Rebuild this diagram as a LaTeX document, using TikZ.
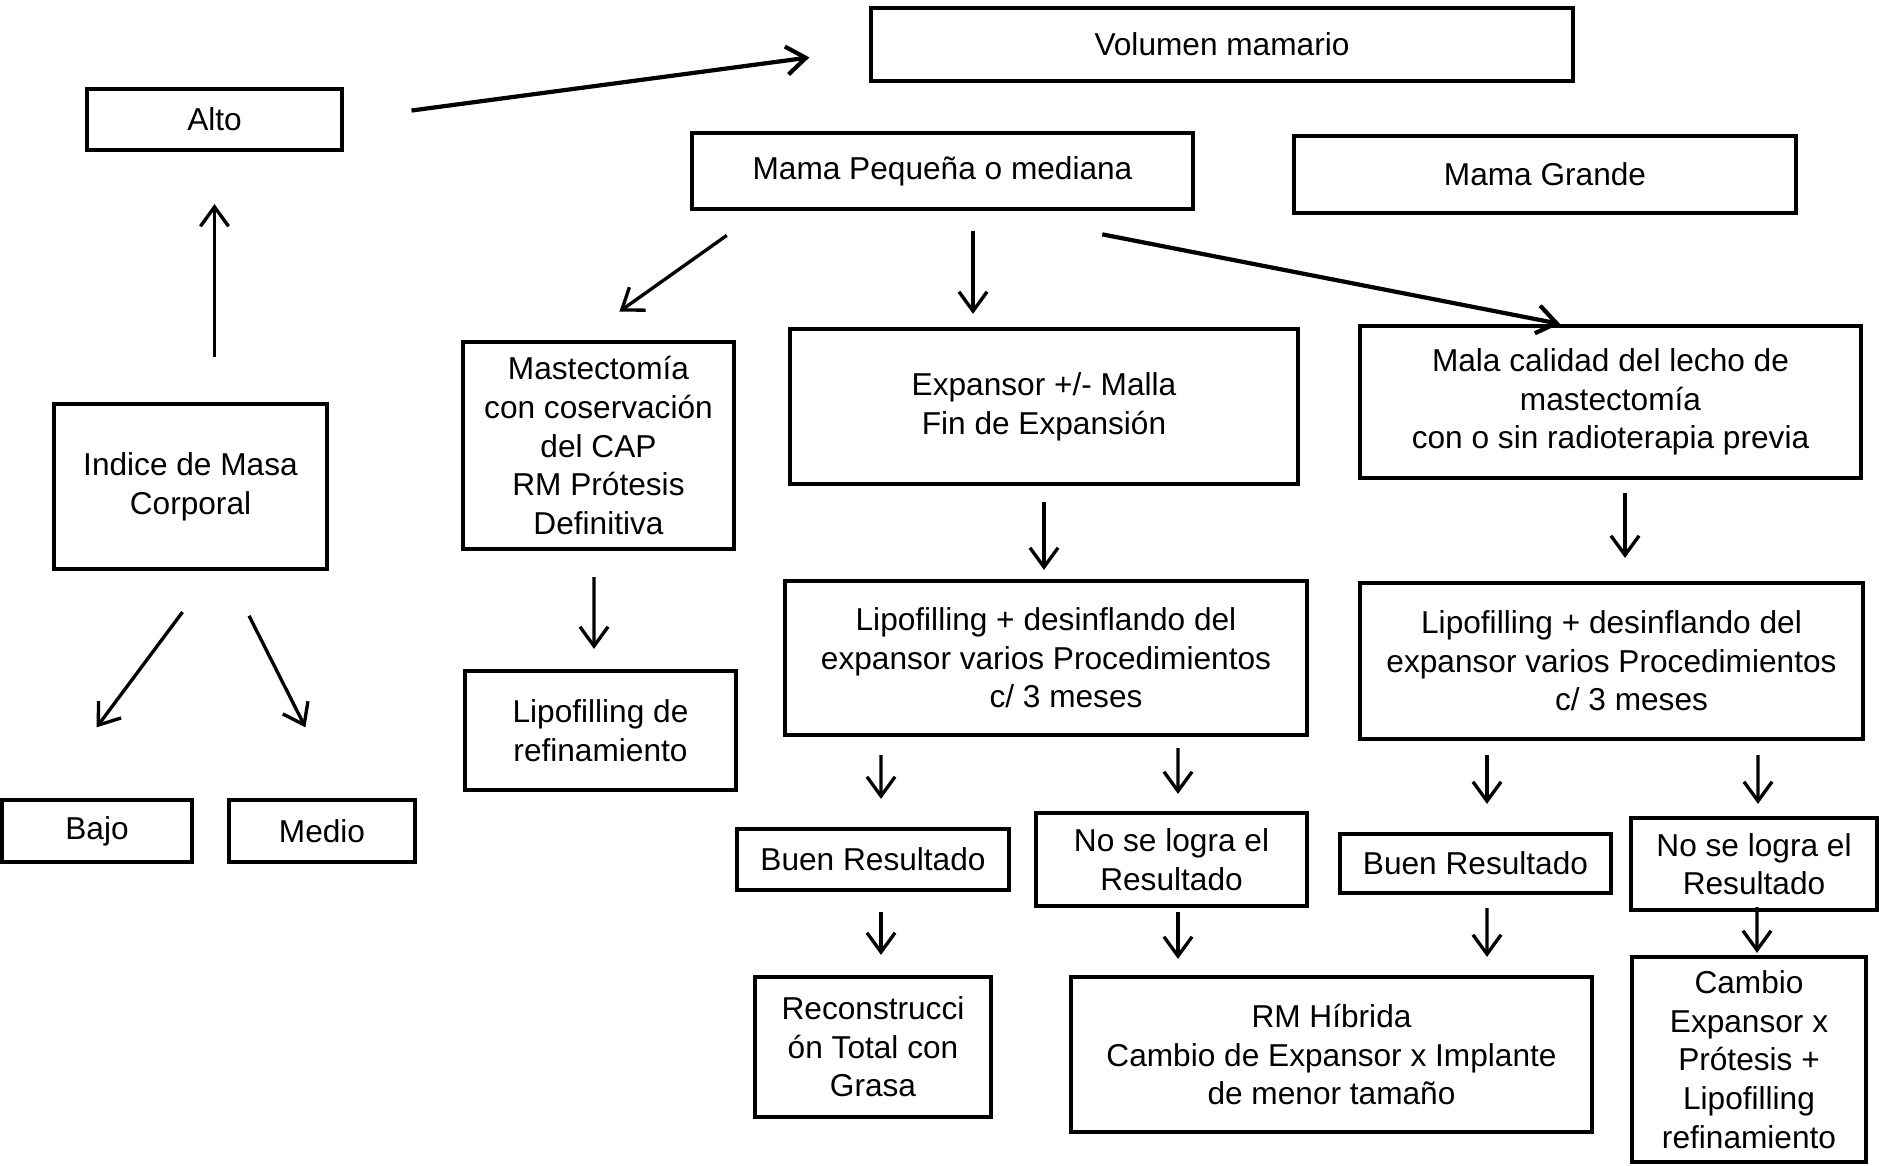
\documentclass[tikz,border=0pt]{standalone}
\usepackage{fontspec}
\setmainfont{Liberation Sans}
\usetikzlibrary{arrows.meta}

\tikzset{
  box/.style={draw, line width=1.2pt, inner sep=2pt, align=center,
    font=\fontsize{9pt}{11pt}\selectfont},
  arr/.style={-{Straight Barb[length=5.5pt,width=8pt]}, line width=0.95pt},
  arrthick/.style={arr, line width=1.2pt}
}

\begin{document}
\begin{tikzpicture}
    \useasboundingbox (0,0) rectangle (18.79,-11.65);

    % top row
    \node[box, minimum width=7.02cm, minimum height=0.73cm] (vol) at (12.22,-0.445) {Volumen mamario};
    \node[box, minimum width=2.55cm, minimum height=0.61cm] (alto) at (2.145,-1.195) {Alto};
    \node[box, minimum width=5.01cm, minimum height=0.76cm] (mamaP) at (9.425,-1.71) {Mama Pequeña o mediana};
    \node[box, minimum width=5.02cm, minimum height=0.77cm] (mamaG) at (15.45,-1.745) {Mama Grande};

    % second row
    \node[box, minimum width=2.73cm, minimum height=1.65cm] (imc) at (1.905,-4.865) {Indice de Masa\\Corporal};
    \node[box, minimum width=2.71cm, minimum height=2.07cm] (mast) at (5.985,-4.455) {Mastectomía\\con coservación\\del CAP\\RM Prótesis\\Definitiva};
    \node[box, minimum width=5.08cm, minimum height=1.55cm] (exp) at (10.44,-4.065) {Expansor +/- Malla\\Fin de Expansión};
    \node[box, minimum width=5.01cm, minimum height=1.52cm] (mala) at (16.105,-4.02) {Mala calidad del lecho de\\mastectomía\\con o sin radioterapia previa};

    % third row
    \node[box, minimum width=2.71cm, minimum height=1.19cm] (lipoR) at (6.005,-7.305) {Lipofilling de\\refinamiento};
    \node[box, minimum width=5.22cm, minimum height=1.54cm] (lipoA) at (10.46,-6.58) {Lipofilling + desinflando del\\expansor varios Procedimientos\\\hspace*{0.4cm}c/ 3 meses};
    \node[box, minimum width=5.03cm, minimum height=1.56cm] (lipoB) at (16.115,-6.61) {Lipofilling + desinflando del\\expansor varios Procedimientos\\\hspace*{0.4cm}c/ 3 meses};
    \node[box, minimum width=1.90cm, minimum height=0.62cm] (bajo) at (0.97,-8.31) {Bajo};
    \node[box, minimum width=1.86cm, minimum height=0.62cm] (medio) at (3.22,-8.31) {Medio};

    % results
    \node[box, minimum width=2.72cm, minimum height=0.61cm] (buenA) at (8.73,-8.595) {Buen Resultado};
    \node[box, minimum width=2.71cm, minimum height=0.93cm] (noseA) at (11.715,-8.595) {No se logra el\\Resultado};
    \node[box, minimum width=2.71cm, minimum height=0.59cm] (buenB) at (14.755,-8.635) {Buen Resultado};
    \node[box, minimum width=2.46cm, minimum height=0.92cm] (noseB) at (17.54,-8.64) {No se logra el\\Resultado};

    % bottom row
    \node[box, minimum width=2.36cm, minimum height=1.40cm] (recon) at (8.73,-10.47) {Reconstrucci\\ón Total con\\Grasa};
    \node[box, minimum width=5.21cm, minimum height=1.55cm] (rm) at (13.315,-10.545) {RM Híbrida\\Cambio de Expansor x Implante\\de menor tamaño};
    \node[box, minimum width=2.34cm, minimum height=2.05cm] (cambio) at (17.49,-10.595) {Cambio\\Expansor x\\Prótesis +\\Lipofilling\\refinamiento};

    % arrows
    \draw[arrthick, shorten <=0.68cm, shorten >=0.6cm] (alto.east) -- ([yshift=-0.05cm]vol.west);
    \draw[arr, shorten <=0.45cm, shorten >=0.52cm] (alto.south |- imc.north) -- (alto.south);
    \draw[arr, shorten <=0.51cm, shorten >=0.88cm] ([xshift=0.225cm]imc.south) -- ([xshift=-0.53cm]bajo.north);
    \draw[arr, shorten <=0.5cm, shorten >=0.79cm] ([xshift=0.36cm]imc.south) -- ([xshift=0.19cm]medio.north);
    \draw[arr, shorten <=0.42cm, shorten >=0.49cm] ([xshift=-1.815cm]mamaP.south) -- ([xshift=-0.19cm]mast.north);
    \draw[arr, shorten <=0.2cm, shorten >=0.13cm] ([xshift=0.305cm]mamaP.south) -- ([xshift=-0.71cm]exp.north);
    \draw[arrthick, shorten <=1.21cm] ([xshift=0.41cm]mamaP.south) -- ([xshift=-0.505cm]mala.north);
    \draw[arr, shorten <=0.26cm, shorten >=0.2cm] ([xshift=-0.045cm]mast.south) -- ([xshift=-0.065cm]lipoR.north);
    \draw[arr, shorten <=0.16cm, shorten >=0.09cm] (exp.south) -- (exp.south |- lipoA.north);
    \draw[arr, shorten <=0.13cm, shorten >=0.23cm] ([xshift=0.145cm]mala.south) -- ([xshift=0.135cm]lipoB.north);
    \draw[arr, shorten <=0.18cm, shorten >=0.28cm] ([xshift=-1.65cm]lipoA.south) -- ([xshift=0.08cm]buenA.north);
    \draw[arr, shorten <=0.11cm, shorten >=0.17cm] ([xshift=1.32cm]lipoA.south) -- ([xshift=0.065cm]noseA.north);
    \draw[arr, shorten <=0.2cm, shorten >=0.2cm] ([xshift=0.08cm]buenA.south) -- ([xshift=0.08cm]recon.north);
    \draw[arr, shorten <=0.14cm, shorten >=0.28cm] ([xshift=-1.245cm]lipoB.south) -- ([xshift=0.115cm]buenB.north);
    \draw[arr, shorten <=0.14cm, shorten >=0.12cm] ([xshift=1.465cm]lipoB.south) -- ([xshift=0.04cm]noseB.north);
    \draw[arr, shorten <=0.04cm, shorten >=0.16cm] ([xshift=0.065cm]noseA.south) -- ([xshift=-1.535cm]rm.north);
    \draw[arr, shorten <=0.13cm, shorten >=0.18cm] ([xshift=0.115cm]buenB.south) -- ([xshift=1.555cm]rm.north);
    \draw[arr, shorten <=-0.05cm, shorten >=0.02cm] ([xshift=0.03cm]noseB.south) -- ([xshift=0.08cm]cambio.north);
\end{tikzpicture}
\end{document}
